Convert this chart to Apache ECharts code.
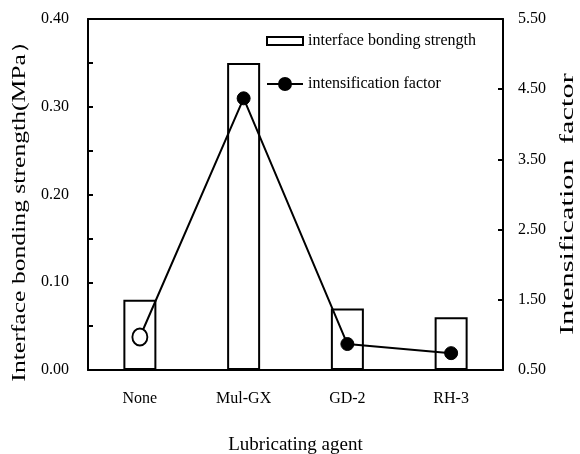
<!DOCTYPE html>
<html>
<head>
<meta charset="utf-8">
<script src="https://cdn.jsdelivr.net/npm/echarts@6/dist/echarts.min.js"></script>
<style>
  html, body { margin: 0; padding: 0; background: #fff; }
  #chart { width: 580px; height: 454px; }
</style>
</head>
<body>
<div id="chart"></div>
<script>
const categories = ['None', 'Mul-GX', 'GD-2', 'RH-3']
const bondingStrength = [0.08, 0.35, 0.07, 0.06]
const intensification = [0.97, 4.37, 0.87, 0.74]

const font = 'Liberation Serif'

const chart = echarts.init(document.getElementById('chart'))

const option = {
  animation: false,
  backgroundColor: '#fff',
  textStyle: { fontFamily: font, color: '#000' },
  grid: {
    left: 88,
    right: 77,
    top: 19,
    bottom: 84,
    outerBoundsMode: 'none',
    containLabel: false
  },
  legend: {
    orient: 'vertical',
    left: 266,
    top: 33,
    padding: 0,
    itemWidth: 36,
    itemHeight: 15,
    itemGap: 27,
    textStyle: { fontFamily: font, fontSize: 16, color: '#000' },
    data: [
      { name: 'interface bonding strength', icon: 'path://M0,0H36V8H0Z' },
      { name: 'intensification factor' }
    ]
  },
  // vertical axis titles, stretched along the baseline like the original
  graphic: [
    {
      type: 'text',
      x: 20,
      y: 205,
      rotation: Math.PI / 2,
      scaleX: 1.35,
      style: {
        text: 'Interface bonding strength(MPa）',
        font: '19px "Liberation Serif"',
        fill: '#000',
        textAlign: 'center',
        textVerticalAlign: 'middle'
      }
    },
    {
      type: 'text',
      x: 568,
      y: 204,
      rotation: Math.PI / 2,
      scaleX: 1.6,
      style: {
        text: 'Intensification  factor',
        font: '19px "Liberation Serif"',
        fill: '#000',
        textAlign: 'center',
        textVerticalAlign: 'middle'
      }
    }
  ],
  xAxis: [
    {
      type: 'category',
      data: categories,
      name: 'Lubricating agent',
      nameLocation: 'middle',
      nameGap: 66,
      nameTextStyle: { fontFamily: font, fontSize: 19, color: '#000' },
      axisLine: { lineStyle: { color: '#000', width: 2 } },
      axisTick: { show: false },
      axisLabel: { fontFamily: font, fontSize: 16, color: '#000', margin: 21 }
    },
    {
      type: 'category',
      data: categories,
      position: 'top',
      axisLine: { lineStyle: { color: '#000', width: 2 } },
      axisTick: { show: false },
      axisLabel: { show: false }
    }
  ],
  yAxis: [
    {
      type: 'value',
      min: 0,
      max: 0.4,
      interval: 0.05,
      axisLine: { show: true, lineStyle: { color: '#000', width: 2 } },
      axisTick: { show: true, inside: true, length: 5, lineStyle: { color: '#000', width: 2 } },
      axisLabel: {
        fontFamily: font,
        fontSize: 16,
        color: '#000',
        margin: 19,
        formatter: v => (Math.round(v * 100) % 10 === 0 ? v.toFixed(2) : '')
      },
      splitLine: { show: false }
    },
    {
      type: 'value',
      min: 0.5,
      max: 5.5,
      interval: 1,
      axisLine: { show: true, lineStyle: { color: '#000', width: 2 } },
      axisTick: { show: true, inside: true, length: 5, lineStyle: { color: '#000', width: 2 } },
      axisLabel: {
        fontFamily: font,
        fontSize: 16,
        color: '#000',
        margin: 15,
        formatter: v => v.toFixed(2)
      },
      splitLine: { show: false }
    }
  ],
  series: [
    {
      name: 'interface bonding strength',
      type: 'bar',
      data: bondingStrength,
      barWidth: 33,
      itemStyle: { color: '#fff', borderColor: '#000', borderWidth: 2 }
    },
    {
      name: 'intensification factor',
      type: 'line',
      yAxisIndex: 1,
      data: intensification.map((v, i) => i === 0
        ? { value: v, symbolSize: [15, 17], itemStyle: { color: '#fff', borderColor: '#000', borderWidth: 2 } }
        : v),
      symbol: 'circle',
      symbolSize: 13,
      clip: false,
      z: 5,
      lineStyle: { color: '#000', width: 2 },
      itemStyle: { color: '#000', borderColor: '#000', borderWidth: 1 }
    }
  ]
}

chart.setOption(option)
</script>
</body>
</html>
